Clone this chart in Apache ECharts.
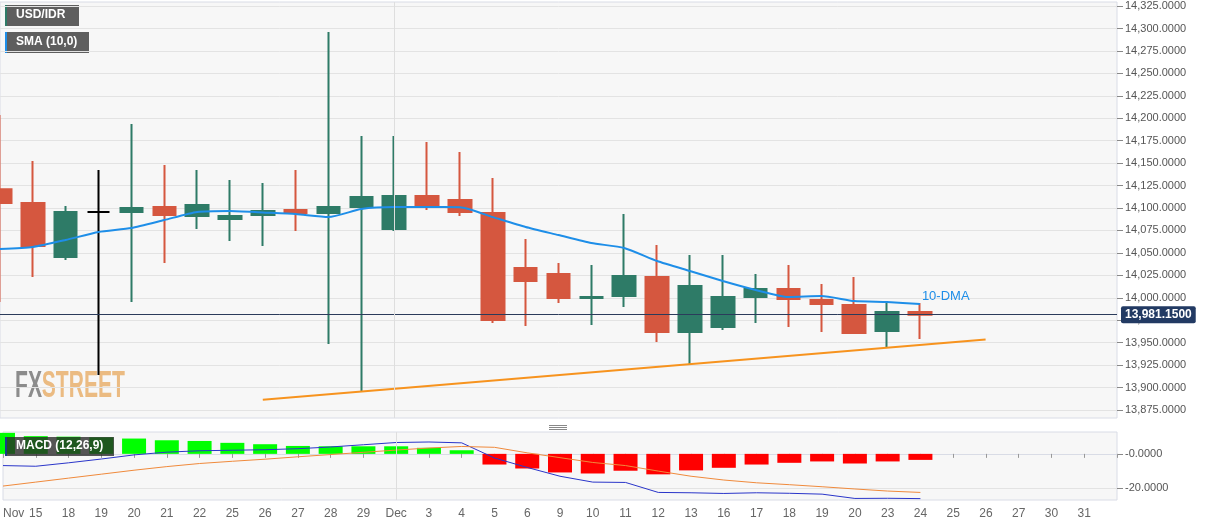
<!DOCTYPE html>
<html lang="en">

<head>
    <meta charset="UTF-8">
    <script src="https://cdn.jsdelivr.net/npm/echarts@6/dist/echarts.min.js"></script>
    <title>USD/IDR</title>
    <style>
        html, body { margin: 0; padding: 0; background: #fff; }
    </style>
</head>

<body>
    <div id="main" style="width: 1207px; height: 526px;"></div>

    <script>
        // trading days, Nov 14 .. Dec 31 (last slot is empty padding)
        var dates = ['11-14', '11-15', '11-18', '11-19', '11-20', '11-21', '11-22', '11-25', '11-26', '11-27',
            '11-28', '11-29', '12-02', '12-03', '12-04', '12-05', '12-06', '12-09', '12-10', '12-11',
            '12-12', '12-13', '12-16', '12-17', '12-18', '12-19', '12-20', '12-23', '12-24', '12-25',
            '12-26', '12-27', '12-30', '12-31', '01-01'];
        var xLabels = ['Nov', '15', '18', '19', '20', '21', '22', '25', '26', '27',
            '28', '29', 'Dec', '3', '4', '5', '6', '9', '10', '11',
            '12', '13', '16', '17', '18', '19', '20', '23', '24', '25',
            '26', '27', '30', '31', ''];

        // [open, close, low, high]
        var candles = [
            [14121.0, 14105.6, 13995.3, 14203.6],
            [14105.6, 14057.7, 14023.2, 14152.4],
            [14045.4, 14095.6, 14042.0, 14102.2],
            [14095.6, 14095.6, 13914.0, 14142.3],
            [14095.6, 14100.0, 13995.3, 14193.6],
            [14101.1, 14092.2, 14038.7, 14147.9],
            [14091.1, 14103.3, 14076.6, 14142.3],
            [14087.8, 14091.1, 14063.2, 14131.2],
            [14092.2, 14096.7, 14057.7, 14127.9],
            [14097.8, 14094.4, 14074.4, 14142.3],
            [14094.4, 14101.1, 13948.5, 14296.0],
            [14101.1, 14112.3, 13895.0, 14180.2],
            [14076.6, 14113.4, 14074.4, 14180.2],
            [14113.4, 14103.3, 14097.8, 14173.5],
            [14108.9, 14095.6, 14091.1, 14162.4],
            [14094.4, 13975.3, 13972.0, 14133.4],
            [14033.2, 14018.7, 13968.6, 14065.5],
            [14026.5, 13999.8, 13994.2, 14038.7],
            [13999.9, 14001.0, 13969.7, 14036.5],
            [14002.0, 14024.3, 13989.7, 14093.3],
            [14023.2, 13961.9, 13950.8, 14058.8],
            [13961.9, 14013.1, 13926.3, 14047.7],
            [13967.5, 14000.9, 13964.0, 14047.7],
            [14000.9, 14009.8, 13971.9, 14026.5],
            [14009.8, 13998.6, 13967.5, 14036.5],
            [13997.5, 13993.1, 13961.9, 14015.4],
            [13992.0, 13960.8, 13959.7, 14023.2],
            [13963.0, 13984.2, 13944.1, 13995.3],
            [13984.2, 13981.15, 13954.0, 13994.2]
        ];

        var sma10 = [14054.3, 14056.6, 14064.4, 14073.3, 14077.7, 14086.6, 14095.6, 14096.7, 14095.0, 14093.3,
            14090.0, 14098.9, 14101.1, 14101.1, 14101.0, 14089.9, 14078.8, 14069.9, 14061.0, 14055.5,
            14041.0, 14029.8, 14018.7, 14008.7, 14000.9, 14002.0, 13996.4, 13995.3, 13993.1];

        // support line drawn on the chart: [index, price]
        var trendLine = [[8, 13886.4], [30, 13953.5]];
        var lastPrice = 13981.15;

        var macdHist = [12.2, 10.3, 10.0, 9.6, 8.9, 7.9, 7.5, 6.4, 5.6, 4.6,
            4.4, 4.4, 4.4, 3.5, 2.1, -6.2, -8.5, -10.8, -11.4, -9.8,
            -11.9, -9.6, -8.1, -6.2, -5.2, -4.4, -5.6, -4.4, -3.5];
        var macdLine = [-6.8, -7.2, -5.2, -3.0, -0.6, 1.0, 1.8, 2.1, 2.4, 3.0,
            4.0, 5.3, 6.6, 6.9, 6.4, -2.4, -7.9, -13.0, -16.4, -16.6,
            -22.4, -22.6, -23.0, -22.6, -22.9, -23.4, -25.9, -25.8, -26.0];
        var signalLine = [-18.7, -16.4, -14.1, -11.8, -9.5, -7.4, -5.6, -4.3, -3.1, -1.7,
            -0.4, 0.9, 2.2, 3.4, 4.3, 3.8, 0.6, -2.2, -5.0, -6.8,
            -10.0, -13.0, -15.2, -16.8, -17.9, -19.1, -20.4, -21.6, -22.4];

        var yTicks = [13875, 13900, 13925, 13950, 13975, 14000, 14025, 14050, 14075, 14100,
            14125, 14150, 14175, 14200, 14225, 14250, 14275, 14300, 14325];
        var macdTicks = [0, -20];

        var green = '#2e7b67';
        var red = '#d5573f';
        var font = 'Liberation Sans, Arial, sans-serif';
        var logoFont = 'bold 37px "Liberation Sans", Arial, sans-serif';

        function fmtPrice(v) {
            return v.toLocaleString('en-US', { minimumFractionDigits: 4, maximumFractionDigits: 4 });
        }

        var chartDom = document.getElementById('main');
        var myChart = echarts.init(chartDom);
        var option;
        option = {
            animation: false,
            backgroundColor: '#fff',
            textStyle: { fontFamily: font },
            grid: [
                { left: 0, right: 90, top: 2, bottom: 108, show: true, backgroundColor: '#f7f7f7', borderColor: '#d9dce6', borderWidth: 1 },
                { left: 0, right: 90, top: 432, bottom: 26, show: true, backgroundColor: '#f7f7f7', borderColor: '#d9dce6', borderWidth: 1 }
            ],
            xAxis: [
                {
                    type: 'category', gridIndex: 0, data: dates, boundaryGap: false,
                    axisLine: { show: false }, axisTick: { show: false }, axisLabel: { show: false },
                    splitLine: { show: false }
                },
                {
                    type: 'category', gridIndex: 1, data: dates, boundaryGap: false,
                    axisLine: { show: true, lineStyle: { color: '#d9dce6' } },
                    axisTick: { show: true, length: 4, interval: 0, lineStyle: { color: '#999' } },
                    axisLabel: {
                        interval: 0, color: '#666', fontSize: 12, margin: 8, alignMinLabel: 'left',
                        formatter: function (v, i) { return xLabels[i]; }
                    },
                    splitLine: { show: false }
                }
            ],
            yAxis: [
                {
                    type: 'value', gridIndex: 0, position: 'right', min: 13866.1, max: 14329.5,
                    axisLine: { show: false },
                    axisTick: { show: true, length: 6, customValues: yTicks, lineStyle: { color: '#888' } },
                    axisLabel: { color: '#555', fontSize: 11, margin: 8, customValues: yTicks, formatter: fmtPrice },
                    splitLine: { show: true, lineStyle: { color: '#e3e3e3' } }
                },
                {
                    type: 'value', gridIndex: 1, position: 'right', min: -26.8, max: 12.7,
                    axisLine: { show: false },
                    axisTick: { show: true, length: 6, customValues: macdTicks, lineStyle: { color: '#888' } },
                    axisLabel: {
                        color: '#555', fontSize: 11, margin: 8, customValues: macdTicks,
                        formatter: function (v) { return (v <= 0 ? '-' : '') + Math.abs(v).toFixed(4); }
                    },
                    splitLine: { show: true, lineStyle: { color: '#e3e3e3' } }
                }
            ],
            series: [
                {
                    name: 'USD/IDR',
                    type: 'candlestick',
                    xAxisIndex: 0, yAxisIndex: 0,
                    data: candles,
                    barWidth: 23,
                    itemStyle: {
                        color: green, color0: red,
                        borderColor: green, borderColor0: red, borderColorDoji: '#000',
                        borderWidth: 2
                    },
                    markLine: {
                        silent: true,
                        symbol: 'none',
                        data: [
                            {
                                yAxis: lastPrice,
                                lineStyle: { color: '#2b3b5b', width: 1, type: 'solid' },
                                label: {
                                    show: true, position: 'end', distance: 4,
                                    formatter: fmtPrice(lastPrice),
                                    color: '#fff', fontWeight: 'bold', fontSize: 12,
                                    backgroundColor: '#223a63', padding: [3, 4, 2, 4], borderRadius: 2
                                }
                            },
                            {
                                xAxis: 12,
                                lineStyle: { color: '#dedede', width: 1, type: 'solid' },
                                label: { show: false }
                            }
                        ]
                    }
                },
                {
                    name: 'SMA (10,0)',
                    type: 'line',
                    xAxisIndex: 0, yAxisIndex: 0,
                    data: sma10,
                    smooth: 0.2,
                    symbol: 'none',
                    lineStyle: { color: '#1e8ee8', width: 2 },
                    endLabel: { show: true, formatter: '10-DMA', color: '#1e8ee8', fontSize: 13, distance: 2, offset: [0, -8] }
                },
                {
                    name: 'trend',
                    type: 'line',
                    xAxisIndex: 0, yAxisIndex: 0,
                    data: trendLine,
                    symbol: 'none',
                    lineStyle: { color: '#f7931e', width: 2 }
                },
                {
                    name: 'hist',
                    type: 'bar',
                    xAxisIndex: 1, yAxisIndex: 1,
                    data: macdHist,
                    barWidth: 24,
                    itemStyle: {
                        color: function (p) { return p.value >= 0 ? '#00ff00' : '#ff0000'; }
                    },
                    markLine: {
                        silent: true, symbol: 'none',
                        data: [{ xAxis: 12, lineStyle: { color: '#dedede', width: 1, type: 'solid' }, label: { show: false } }]
                    }
                },
                {
                    name: 'MACD',
                    type: 'line',
                    xAxisIndex: 1, yAxisIndex: 1,
                    data: macdLine,
                    symbol: 'none',
                    lineStyle: { color: '#2a35c9', width: 1 }
                },
                {
                    name: 'signal',
                    type: 'line',
                    xAxisIndex: 1, yAxisIndex: 1,
                    data: signalLine,
                    symbol: 'none',
                    lineStyle: { color: '#f08a3c', width: 1 }
                }
            ],
            graphic: [
                // legend tags
                { type: 'rect', left: 5, top: 5, shape: { width: 74, height: 21 }, style: { fill: '#5e5e5e' } },
                { type: 'rect', left: 5, top: 5, shape: { width: 2, height: 21 }, style: { fill: green } },
                { type: 'text', left: 16, top: 9, style: { text: 'USD/IDR', fill: '#fff', font: 'bold 12px ' + font } },
                { type: 'rect', left: 5, top: 32, shape: { width: 84, height: 21 }, style: { fill: '#5e5e5e' } },
                { type: 'rect', left: 5, top: 32, shape: { width: 2, height: 21 }, style: { fill: '#1e8ee8' } },
                { type: 'text', left: 16, top: 36, style: { text: 'SMA (10,0)', fill: '#fff', font: 'bold 12px ' + font } },
                { type: 'rect', left: 5, top: 437, z: 10, shape: { width: 109, height: 19 }, style: { fill: 'rgba(40,40,40,0.78)' } },
                { type: 'rect', left: 5, top: 437, z: 10, shape: { width: 2, height: 19 }, style: { fill: '#1a3a8a' } },
                { type: 'text', left: 16, top: 440, z: 11, style: { text: 'MACD (12,26,9)', fill: '#fff', font: 'bold 12px ' + font } },
                // panel splitter handle
                { type: 'rect', left: 549, top: 425, shape: { width: 18, height: 1 }, style: { fill: '#888' } },
                { type: 'rect', left: 549, top: 427, shape: { width: 18, height: 1 }, style: { fill: '#888' } },
                { type: 'rect', left: 549, top: 429, shape: { width: 18, height: 1 }, style: { fill: '#888' } },
                // FXSTREET logo, squeezed horizontally
                {
                    type: 'group', x: 15, y: 368, scaleX: 0.57,
                    children: [
                        { type: 'text', x: 0, y: 0, style: { text: 'FX', fill: '#8c8c8c', font: logoFont } },
                        { type: 'text', x: 47, y: 0, style: { text: 'STREET', fill: '#ebbb82', font: logoFont } }
                    ]
                }
            ]
        };
        myChart.setOption(option);

    </script>
</body>

</html>
